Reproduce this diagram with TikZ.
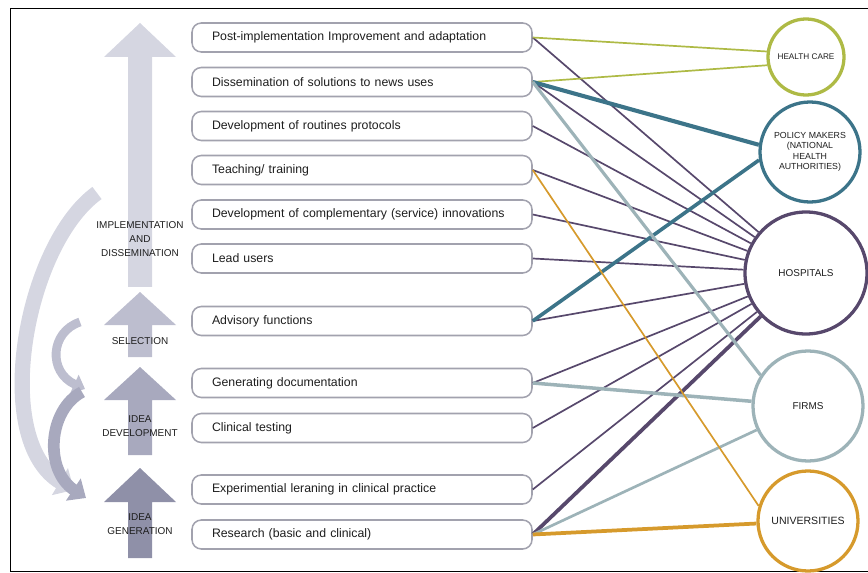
\documentclass[tikz,border=0pt]{standalone}
\usepackage{fontspec}
\setmainfont{Liberation Sans}
\usetikzlibrary{arrows.meta}
\definecolor{boxgrey}{HTML}{A2A2AE}
\definecolor{careGreen}{HTML}{AEBA45}
\definecolor{policyTeal}{HTML}{3C7489}
\definecolor{hospPurple}{HTML}{57486C}
\definecolor{firmGrey}{HTML}{9DB3B8}
\definecolor{uniOrange}{HTML}{D69A2C}
\definecolor{stageA}{HTML}{D5D6E1}
\definecolor{stageB}{HTML}{BDBECF}
\definecolor{stageC}{HTML}{A8A9BE}
\definecolor{stageD}{HTML}{8F90A8}
\definecolor{textgrey}{HTML}{1E1E1E}

\begin{document}
\begin{tikzpicture}[x=0.3mm,y=-0.3mm,
  task/.style={draw=boxgrey,line width=1.3pt,rounded corners=8pt,fill=white,
    minimum width=102mm,minimum height=8.7mm,text width=90mm,align=left,
    text=textgrey,font=\fontsize{10.5}{12}\selectfont},
  actor/.style={circle,line width=2.8pt,fill=white,align=center,inner sep=0pt,
    text=textgrey,font=\fontsize{8.5}{10}\selectfont},
  stage/.style={align=center,text=textgrey,font=\fontsize{8.5}{12}\selectfont},
  link/.style={line width=1.45pt},
  loop/.style={line cap=butt}]
\useasboundingbox (0,0) rectangle (868,573);
\draw[line width=0.8pt] (868,8) -- (10,8) -- (10,571) -- (868,571);

\coordinate (bigStart) at (97,193);
\coordinate (bigEnd) at (74,490);
\coordinate (selStart) at (80,322);
\coordinate (selEnd) at (85,389);
\coordinate (devStart) at (82,392);
\coordinate (devEnd) at (86,498);
\draw[loop,stageA,line width=13pt,-{Triangle[width=26pt,length=14pt]}] (bigStart) .. controls (25,245) and (-10,440) .. (bigEnd);
\draw[loop,stageB,line width=7.5pt,-{Triangle[width=17pt,length=10pt]}] (selStart) .. controls (50,332) and (48,372) .. (selEnd);
\draw[loop,stageC,line width=10pt,-{Triangle[width=22pt,length=13pt]}] (devStart) .. controls (48,410) and (44,470) .. (devEnd);

\foreach \tip/\base/\bot/\col in {23/57/287/stageA,292/325/357/stageB,367/400/455/stageC,468/502/558/stageD}
  \fill[\col] (140,\tip) -- (176,\base) -- (152,\base) -- (152,\bot) -- (128,\bot) -- (128,\base) -- (104,\base) -- cycle;

\node[stage] (impl) at (140,239) {IMPLEMENTATION\\AND\\DISSEMINATION};
\node[stage] (sel) at (140,341) {SELECTION};
\node[stage] (dev) at (140,426) {IDEA\\DEVELOPMENT};
\node[stage] (gen) at (140,524) {IDEA\\GENERATION};

\node[task] (t1) at (362,37.5) {Post-implementation Improvement and adaptation};
\node[task] (t2) at (362,82) {Dissemination of solutions to news uses};
\node[task] (t3) at (362,126) {Development of routines protocols};
\node[task] (t4) at (362,170) {Teaching/ training};
\node[task] (t5) at (362,214.5) {Development of complementary (service) innovations};
\node[task] (t6) at (362,258.5) {Lead users};
\node[task] (t7) at (362,321) {Advisory functions};
\node[task] (t8) at (362,383) {Generating documentation};
\node[task] (t9) at (362,428) {Clinical testing};
\node[task] (t10) at (362,489.5) {Experimential leraning in clinical practice};
\node[task] (t11) at (362,534.5) {Research (basic and clinical)};

\node[actor,draw=careGreen,minimum size=22.8mm,font=\fontsize{7}{8.5}\selectfont] (care) at (806,57) {HEALTH CARE};
\node[actor,draw=policyTeal,minimum size=30mm,font=\fontsize{7.5}{9}\selectfont] (policy) at (810,152) {POLICY MAKERS\\(NATIONAL\\HEALTH\\AUTHORITIES)};
\node[actor,draw=hospPurple,minimum size=36.6mm] (hosp) at (806,273) {HOSPITALS};
\node[actor,draw=firmGrey,minimum size=33mm] (firms) at (808,406) {FIRMS};
\node[actor,draw=uniOrange,minimum size=30mm,font=\fontsize{9}{10}\selectfont] (uni) at (808,521) {UNIVERSITIES};

\foreach \i in {1,...,10}
  \draw[link,hospPurple] (t\i.east) -- (hosp);
\draw[link,hospPurple,line width=3.2pt] (t11.east) -- (hosp);
\draw[link,careGreen] (t1.east) -- (care.172);
\draw[link,careGreen] (t2.east) -- (care.192);
\draw[link,policyTeal,line width=3.5pt] (t2.east) -- (policy.172);
\draw[link,policyTeal,line width=3.1pt] (t7.east) -- (policy.189);
\draw[link,firmGrey,line width=2.7pt] (t2.east) -- (firms.147);
\draw[link,firmGrey,line width=3pt] (t8.east) -- (firms);
\draw[link,firmGrey,line width=2.3pt] (t11.east) -- (firms);
\draw[link,uniOrange] (t4.east) -- (uni.163);
\draw[link,uniOrange,line width=3.2pt] (t11.east) -- (uni);
\end{tikzpicture}
\end{document}
